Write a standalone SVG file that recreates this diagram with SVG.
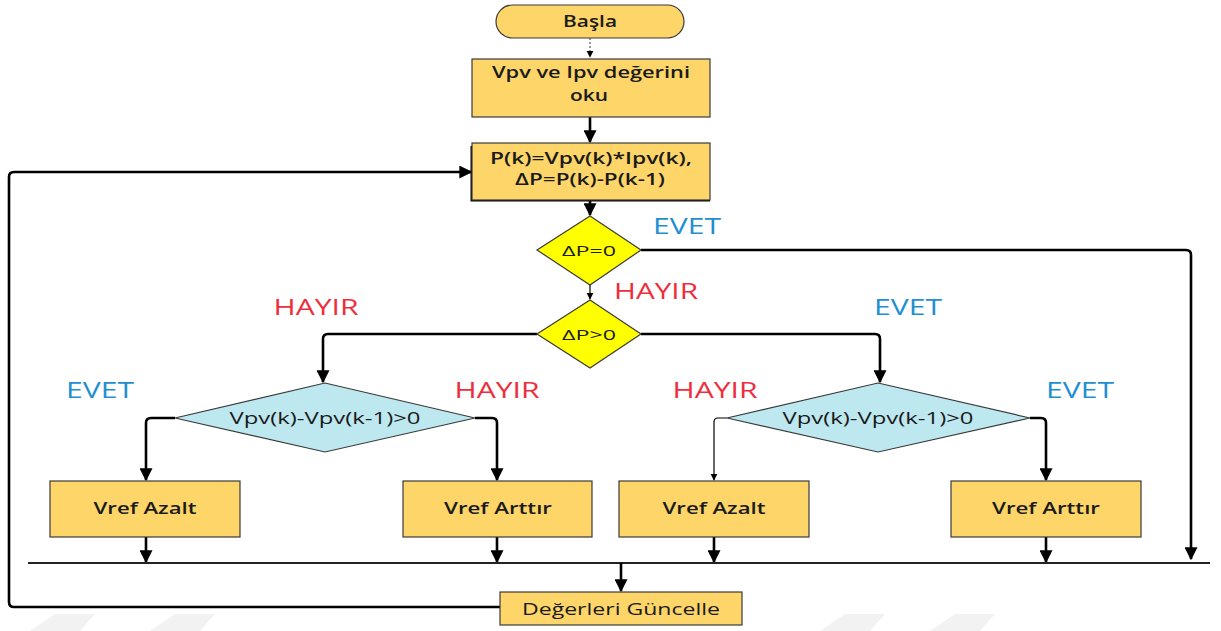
<svg xmlns="http://www.w3.org/2000/svg" width="1221" height="631" viewBox="0 0 1221 631">
  <style>
    .box { fill: #FDD568; stroke: #3a3a3a; stroke-width: 1.2; }
    .dec { fill: #FFFF00; stroke: #3a3a3a; stroke-width: 1.2; }
    .cyan { fill: #BEE8EF; stroke: #3a3a3a; stroke-width: 1.2; }
    .t { font-family: "Open Sans", "Liberation Sans", sans-serif; font-size: 16.5px; fill: #1a1a1a; text-anchor: middle; font-weight: 600; }
    .yes { font-family: "Open Sans", "Liberation Sans", sans-serif; font-size: 21px; fill: #1F8FD2; text-anchor: middle; }
    .no { font-family: "Open Sans", "Liberation Sans", sans-serif; font-size: 21px; fill: #EE2E3C; text-anchor: middle; }
    .c { fill: none; stroke: #000; stroke-width: 2.6; stroke-linejoin: round; }
    .thin { fill: none; stroke: #000; stroke-width: 1.2; }
  </style>
  <defs>
    <marker id="ah" viewBox="0 0 10 10" refX="9" refY="5" markerWidth="5" markerHeight="5" orient="auto" markerUnits="strokeWidth">
      <path d="M0,0 L10,5 L0,10 z" fill="#000"/>
    </marker>
    <marker id="ahs" viewBox="0 0 10 10" refX="9" refY="5" markerWidth="6" markerHeight="6" orient="auto" markerUnits="strokeWidth">
      <path d="M0,0 L10,5 L0,10 z" fill="#000"/>
    </marker>
  </defs>

  <!-- faint background marks -->
  <g id="bg" fill="#f2f2f2">
    <polygon points="30,631 55,614 95,614 80,631"/>
    <polygon points="150,631 175,614 215,614 200,631"/>
    <polygon points="820,631 845,614 885,614 870,631"/>
    <polygon points="930,631 955,614 995,614 980,631"/>
  </g>

  <!-- connectors -->
  <g id="connectors">
    <line x1="590" y1="38" x2="590" y2="57" stroke="#555" stroke-width="1.2" stroke-dasharray="2,2" marker-end="url(#ahs)"/>
    <line x1="590" y1="117" x2="590" y2="142" class="c" marker-end="url(#ah)"/>
    <line x1="590" y1="201" x2="590" y2="215" class="c" marker-end="url(#ah)"/>
    <line x1="590" y1="285" x2="590" y2="299" class="thin" marker-end="url(#ahs)"/>
    <!-- ΔP=0 EVET branch -->
    <path d="M641,250 H1186 Q1191,250 1191,255 V559" class="c" marker-end="url(#ah)"/>
    <!-- ΔP>0 branches -->
    <path d="M537,334 H328 Q323,334 323,339 V382" class="c" marker-end="url(#ah)"/>
    <path d="M641,334 H875 Q880,334 880,339 V382" class="c" marker-end="url(#ah)"/>
    <!-- left test -->
    <path d="M175,418 H151 Q146,418 146,423 V480" class="c" marker-end="url(#ah)"/>
    <path d="M475,418 H492 Q497,418 497,423 V480" class="c" marker-end="url(#ah)"/>
    <!-- right test -->
    <path d="M727,418 H718 Q714,418 714,422 V480" class="thin" marker-end="url(#ahs)"/>
    <path d="M1030,418 H1041 Q1046,418 1046,423 V480" class="c" marker-end="url(#ah)"/>
    <!-- into the collector line -->
    <line x1="146" y1="537" x2="146" y2="562" class="c" marker-end="url(#ah)"/>
    <line x1="497" y1="537" x2="497" y2="562" class="c" marker-end="url(#ah)"/>
    <line x1="714" y1="537" x2="714" y2="562" class="c" marker-end="url(#ah)"/>
    <line x1="1046" y1="537" x2="1046" y2="562" class="c" marker-end="url(#ah)"/>
    <line x1="28" y1="563" x2="1210" y2="563" stroke="#222" stroke-width="1.8"/>
    <line x1="621" y1="563" x2="621" y2="591" class="c" marker-end="url(#ah)"/>
    <!-- loop back -->
    <path d="M500,607 H14 Q9,607 9,602 V177 Q9,172 14,172 H471" class="c" marker-end="url(#ah)"/>
  </g>

  <g id="start">
    <rect x="496" y="5" width="188" height="33" rx="16.5" class="box"/>
    <text x="590" y="27" class="t" textLength="54" lengthAdjust="spacingAndGlyphs">Başla</text>
  </g>
  <g id="read">
    <rect x="472" y="59" width="238" height="58" class="box"/>
    <text x="591" y="78" class="t" textLength="198" lengthAdjust="spacingAndGlyphs">Vpv ve Ipv değerini</text>
    <text x="589" y="101" class="t" textLength="38" lengthAdjust="spacingAndGlyphs">oku</text>
  </g>
  <g id="power">
    <path d="M472,146 V200 H710" fill="none" stroke="#000" stroke-width="3"/>
    <rect x="472" y="143" width="238" height="57" class="box"/>
    <text x="591" y="164" class="t" textLength="202" lengthAdjust="spacingAndGlyphs">P(k)=Vpv(k)*Ipv(k),</text>
    <text x="590" y="185" class="t" textLength="150" lengthAdjust="spacingAndGlyphs">ΔP=P(k)-P(k-1)</text>
  </g>
  <g id="dp0">
    <polygon points="590,216 641,250 590,285 537,250" class="dec"/>
    <text x="589" y="256" class="t" style="font-size:15px;font-weight:500" textLength="54" lengthAdjust="spacingAndGlyphs">ΔP=0</text>
  </g>
  <g id="dpgt0">
    <polygon points="590,300 641,334 590,368 537,334" class="dec"/>
    <text x="589" y="340" class="t" style="font-size:15px;font-weight:500" textLength="54" lengthAdjust="spacingAndGlyphs">ΔP&gt;0</text>
  </g>
  <g id="testL">
    <polygon points="325,383 475,418 325,452 175,418" class="cyan"/>
    <text x="325" y="424" class="t" style="font-weight:500" textLength="191" lengthAdjust="spacingAndGlyphs">Vpv(k)-Vpv(k-1)&gt;0</text>
  </g>
  <g id="testR">
    <polygon points="878,383 1030,418 878,452 727,418" class="cyan"/>
    <text x="878" y="424" class="t" style="font-weight:500" textLength="191" lengthAdjust="spacingAndGlyphs">Vpv(k)-Vpv(k-1)&gt;0</text>
  </g>
  <g id="decL">
    <rect x="50" y="481" width="190" height="56" class="box"/>
    <text x="145" y="514" class="t" textLength="103" lengthAdjust="spacingAndGlyphs">Vref Azalt</text>
  </g>
  <g id="incL">
    <rect x="403" y="481" width="189" height="56" class="box"/>
    <text x="498" y="514" class="t" textLength="108" lengthAdjust="spacingAndGlyphs">Vref Arttır</text>
  </g>
  <g id="decR">
    <rect x="619" y="481" width="190" height="56" class="box"/>
    <text x="714" y="514" class="t" textLength="103" lengthAdjust="spacingAndGlyphs">Vref Azalt</text>
  </g>
  <g id="incR">
    <rect x="951" y="481" width="190" height="56" class="box"/>
    <text x="1046" y="514" class="t" textLength="108" lengthAdjust="spacingAndGlyphs">Vref Arttır</text>
  </g>
  <g id="update">
    <rect x="500" y="592" width="242" height="33" class="box"/>
    <text x="621" y="615" class="t" style="font-weight:500" textLength="198" lengthAdjust="spacingAndGlyphs">Değerleri Güncelle</text>
  </g>

  <g id="labels">
    <text x="687" y="234" class="yes" textLength="68" lengthAdjust="spacingAndGlyphs">EVET</text>
    <text x="656" y="299" class="no" textLength="84" lengthAdjust="spacingAndGlyphs">HAYIR</text>
    <text x="316" y="315" class="no" textLength="85" lengthAdjust="spacingAndGlyphs">HAYIR</text>
    <text x="908" y="315" class="yes" textLength="68" lengthAdjust="spacingAndGlyphs">EVET</text>
    <text x="100" y="398" class="yes" textLength="68" lengthAdjust="spacingAndGlyphs">EVET</text>
    <text x="497" y="398" class="no" textLength="85" lengthAdjust="spacingAndGlyphs">HAYIR</text>
    <text x="715" y="398" class="no" textLength="85" lengthAdjust="spacingAndGlyphs">HAYIR</text>
    <text x="1080" y="398" class="yes" textLength="68" lengthAdjust="spacingAndGlyphs">EVET</text>
  </g>
</svg>
